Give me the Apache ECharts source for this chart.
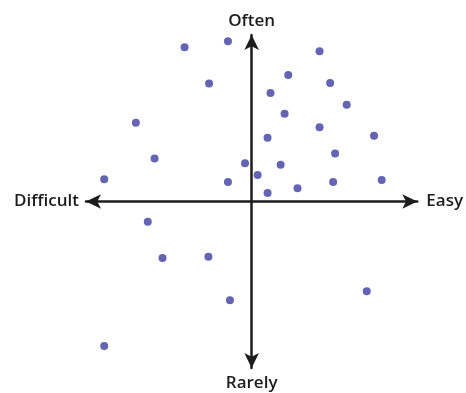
<!DOCTYPE html>
<html>
<head>
<meta charset="utf-8">
<script src="https://cdn.jsdelivr.net/npm/echarts@6/dist/echarts.min.js"></script>
<style>
  html, body { margin: 0; padding: 0; background: #fff; }
  #chart { width: 466px; height: 393px; }
</style>
</head>
<body>
<div id="chart"></div>
<script>
// Ease (x: difficult → easy) versus frequency (y: rarely → often)
const easeValues = [
  -4.05, -1.43, 4.10, 2.21, -2.57, 4.74, 1.14, 5.74, 1.99, -6.99,
  4.10, 0.96, 7.39, 5.04, -5.86, -0.40, 1.75, 0.36, -8.90, -1.43,
  4.92, 7.85, 0.96, 2.77, -6.27, -5.38, -2.61, -1.31, 6.95, -8.90
];
const frequencyValues = [
  9.26, 9.62, 9.02, 7.60, 7.08, 7.12, 6.52, 5.81, 5.27, 4.73,
  4.46, 3.83, 3.95, 2.89, 2.59, 2.29, 2.21, 1.59, 1.33, 1.17,
  1.17, 1.29, 0.51, 0.79, -1.21, -3.39, -3.32, -5.93, -5.39, -8.68
];
const axisNames = { left: 'Difficult', right: 'Easy', top: 'Often', bottom: 'Rarely' };

const points = easeValues.map((x, i) => [x, frequencyValues[i]]);

const ink = '#1c1c1c';
const nameStyle = {
  fontFamily: 'Open Sans',
  fontSize: 17,
  fontWeight: 600,
  color: ink
};
const axisLineStyle = {
  show: true,
  onZero: true,
  symbol: ['arrow', 'arrow'],
  symbolSize: [11, 15],
  lineStyle: { color: ink, width: 2.5 }
};
const hidden = {
  axisTick: { show: false },
  axisLabel: { show: false },
  splitLine: { show: false }
};

const chart = echarts.init(document.getElementById('chart'));
chart.setOption({
  animation: false,
  grid: { left: 86, right: 48, top: 35, bottom: 25 },
  xAxis: [
    Object.assign({
      type: 'value', min: -10, max: 10,
      axisLine: axisLineStyle,
      name: axisNames.right, nameLocation: 'end', nameGap: 9,
      nameTextStyle: nameStyle
    }, hidden),
    Object.assign({
      type: 'value', min: -10, max: 10, position: 'bottom',
      axisLine: { show: false },
      name: axisNames.left, nameLocation: 'start', nameGap: 7,
      nameTextStyle: nameStyle
    }, hidden)
  ],
  yAxis: [
    Object.assign({
      type: 'value', min: -10, max: 10,
      axisLine: axisLineStyle,
      name: axisNames.top, nameLocation: 'end', nameGap: 5,
      nameTextStyle: nameStyle
    }, hidden),
    Object.assign({
      type: 'value', min: -10, max: 10, position: 'left',
      axisLine: { show: false },
      name: axisNames.bottom, nameLocation: 'start', nameGap: 7,
      nameTextStyle: Object.assign({}, nameStyle, { verticalAlign: 'top' })
    }, hidden)
  ],
  series: [{
    type: 'scatter',
    data: points,
    symbolSize: 8,
    itemStyle: { color: '#6464b4', opacity: 1 },
    z: 3
  }]
});
</script>
</body>
</html>
